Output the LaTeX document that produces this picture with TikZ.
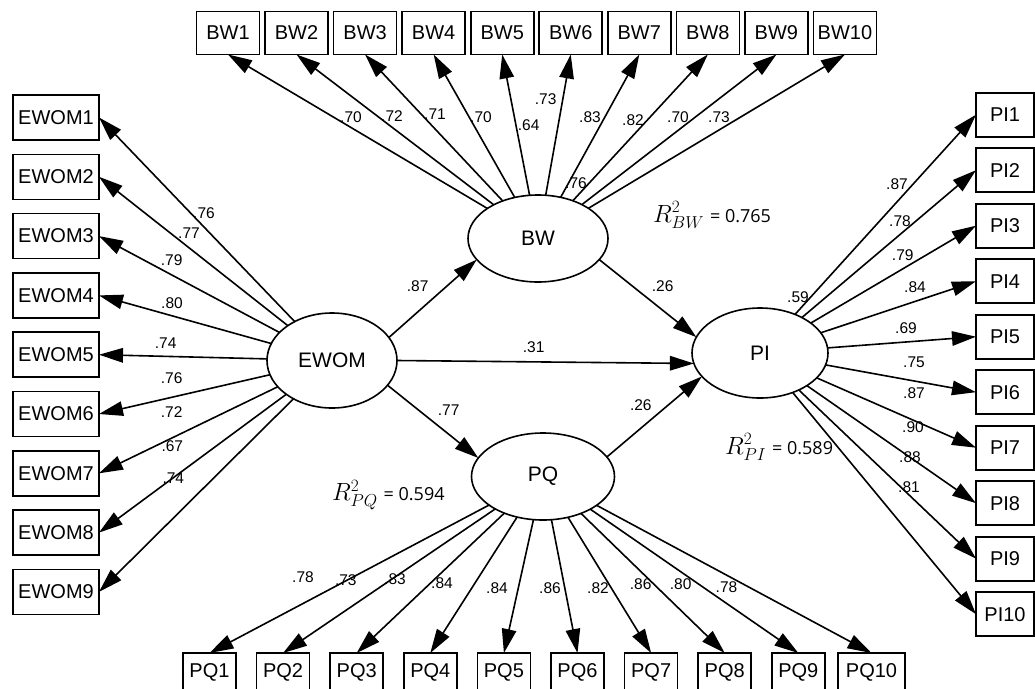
\documentclass[tikz,border=0pt]{standalone}
\usepackage{fontspec}
\setmainfont{Liberation Sans}
\newfontfamily\rsqfont{Open Sans}
\usetikzlibrary{arrows.meta,shapes.geometric}

\begin{document}
\begin{tikzpicture}[x=1pt,y=-1pt,
  every node/.style={inner sep=0pt, outer sep=0pt},
  latent/.style={ellipse, draw, line width=1.6pt, font=\fontsize{21}{24}\selectfont},
  obs/.style={rectangle, draw, line width=1.6pt, minimum height=44pt, font=\fontsize{20}{24}\selectfont},
  path/.style={line width=1.6pt, -{Triangle[length=24pt,width=14.5pt]}},
  coef/.style={font=\fontsize{15.5}{18}\selectfont},
  rsq/.style={anchor=base west, font=\fontsize{25}{28}\selectfont}
]
\useasboundingbox (0,0) rectangle (1035,688);

% latent variables
\node[latent, minimum width=140pt, minimum height=87pt] (BW) at (538,238.5) {BW};
\node[latent, minimum width=130pt, minimum height=95pt] (EWOM) at (332,360.5) {EWOM};
\node[latent, minimum width=136pt, minimum height=90pt] (PI) at (760,353) {PI};
\node[latent, minimum width=143pt, minimum height=87pt] (PQ) at (543,476.5) {PQ};

% indicators
\foreach \i [evaluate=\i as \x using {228+68.55*(\i-1)}] in {1,...,10}
  \node[obs, minimum width=63pt, minimum height=43pt] (BW\i) at (\x,33) {BW\i};
\foreach \i [evaluate=\i as \y using {117.5+59.3*(\i-1)}] in {1,...,9}
  \node[obs, minimum width=86pt, minimum height=45pt] (EWOM\i) at (56,\y) {EWOM\i};
\foreach \i [evaluate=\i as \y using {114.7+55.5*(\i-1)}] in {1,...,10}
  \node[obs, minimum width=58pt] (PI\i) at (1005,\y) {PI\i};
\foreach \i [evaluate=\i as \x using {209.5+73.6*(\i-1)}] in {1,...,9}
  \node[obs, minimum width=53pt, minimum height=38pt] (PQ\i) at (\x,672) {PQ\i};
\node[obs, minimum width=67pt, minimum height=38pt] (PQ10) at (871.5,672) {PQ10};

% loadings
\foreach \i in {1,...,10} \draw[path] (BW) -- (BW\i.south);
\foreach \i in {1,...,9}  \draw[path] (EWOM) -- (EWOM\i.east);
\foreach \i in {1,...,10} \draw[path] (PI) -- (PI\i.west);
\foreach \i in {1,...,10} \draw[path] (PQ) -- (PQ\i.north);

% structural paths
\draw[path] (EWOM.22) -- (BW.199);
\draw[path] (EWOM.336) -- (PQ.164);
\draw[path] (BW.341) -- (PI.166);
\draw[path] (PQ.17) -- (PI.202);
\draw[path] (EWOM.east) -- (PI.189);

% coefficients on the loadings
\foreach \x/\y/\t [count=\k] in {351/117/.70, 392/116/.72, 435/114/.71, 481/117/.70, 528.6/125/.64,
    545.7/99/.73, 590/117/.83, 633/120/.82, 678/117/.70, 719/117/.73}
  \node[coef] (cbw\k) at (\x,\y) {\t};
\foreach \x/\y/\t [count=\k] in {204/212.7/.76, 189/232.7/.77, 171.7/260/.79, 172/302.7/.80, 165.7/343/.74,
    171.7/378/.76, 171.7/412/.72, 172.3/445.7/.67, 173.3/478/.74}
  \node[coef] (cew\k) at (\x,\y) {\t};
\foreach \x/\y/\t [count=\k] in {897/184/.87, 900/220.7/.78, 902.7/255/.79, 915/286.7/.84, 906/328/.69,
    914/362/.75, 914/393/.87, 913/426.7/.90, 910/457/.88, 909/486.7/.81}
  \node[coef] (cpi\k) at (\x,\y) {\t};
\foreach \x/\y/\t [count=\k] in {303/576.7/.78, 345.8/580/.73, 395/579/.83, 442/583/.84, 497/588/.84,
    550/588/.86, 598/588/.82, 640.7/584/.86, 680.6/584/.80, 726.5/586.7/.78}
  \node[coef] (cpq\k) at (\x,\y) {\t};

% squared multiple correlations
\node[coef] (sbw) at (576,183) {.76};
\node[coef] (spi) at (798,296.7) {.59};

% structural coefficients
\node[coef] (c1) at (417.7,286) {.87};
\node[coef] (c2) at (662.6,286) {.26};
\node[coef] (c3) at (533.6,346.7) {.31};
\node[coef] (c4) at (448.7,410) {.77};
\node[coef] (c5) at (640.8,405) {.26};

% R-squared annotations
\node[rsq] (rbw) at (653,222) {$R^{2}_{BW}$\hspace{6pt}{\rsqfont\fontsize{18}{20}\selectfont = 0.765}};
\node[rsq] (rpi) at (725,454) {$R^{2}_{PI}$\hspace{6pt}{\rsqfont\fontsize{18}{20}\selectfont = 0.589}};
\node[rsq] (rpq) at (332,500.5) {$R^{2}_{PQ}$\hspace{6pt}{\rsqfont\fontsize{18}{20}\selectfont = 0.594}};
\end{tikzpicture}
\end{document}
